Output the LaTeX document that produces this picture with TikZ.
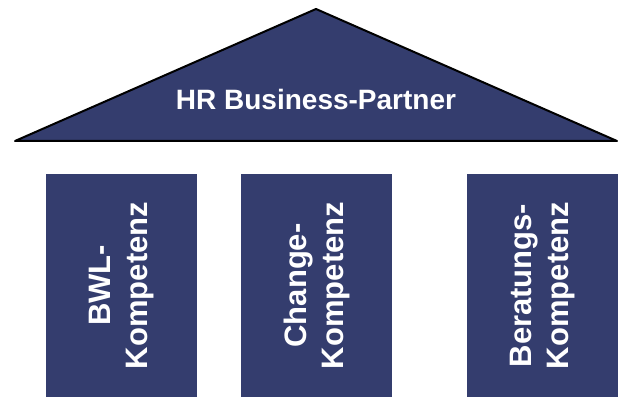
\documentclass[tikz,border=0pt]{standalone}
\usepackage{fontspec}
\setmainfont{Liberation Sans}
\usepackage{tikz}
\definecolor{hrblue}{RGB}{52,61,110}
\tikzset{
  pillar/.style={fill=hrblue, text=white, rotate=90, minimum width=223, minimum height=151,
    inner sep=0pt, align=center, font=\bfseries\fontsize{31}{37}\selectfont},
}

\begin{document}
\begin{tikzpicture}[x=1pt,y=1pt]
				\useasboundingbox (0,0) rectangle (619,398);
				% roof
				\draw[line width=2pt, line join=round, fill=hrblue] (15,257) -- (316,389) -- (617,257) -- cycle;
				\node[text=white, font=\bfseries\fontsize{28}{32}\selectfont] (HR) at (316,299) {HR Business-Partner};

				% pillars
				\node[pillar] (BWL) at (121.5,112.5) {BWL-\\Kompetenz};
				\node[pillar] (CH) at (316.5,112.5) {Change-\\Kompetenz};
				\node[pillar] (BER) at (542.5,112.5) {Beratungs-\\Kompetenz};
			\end{tikzpicture}
\end{document}
